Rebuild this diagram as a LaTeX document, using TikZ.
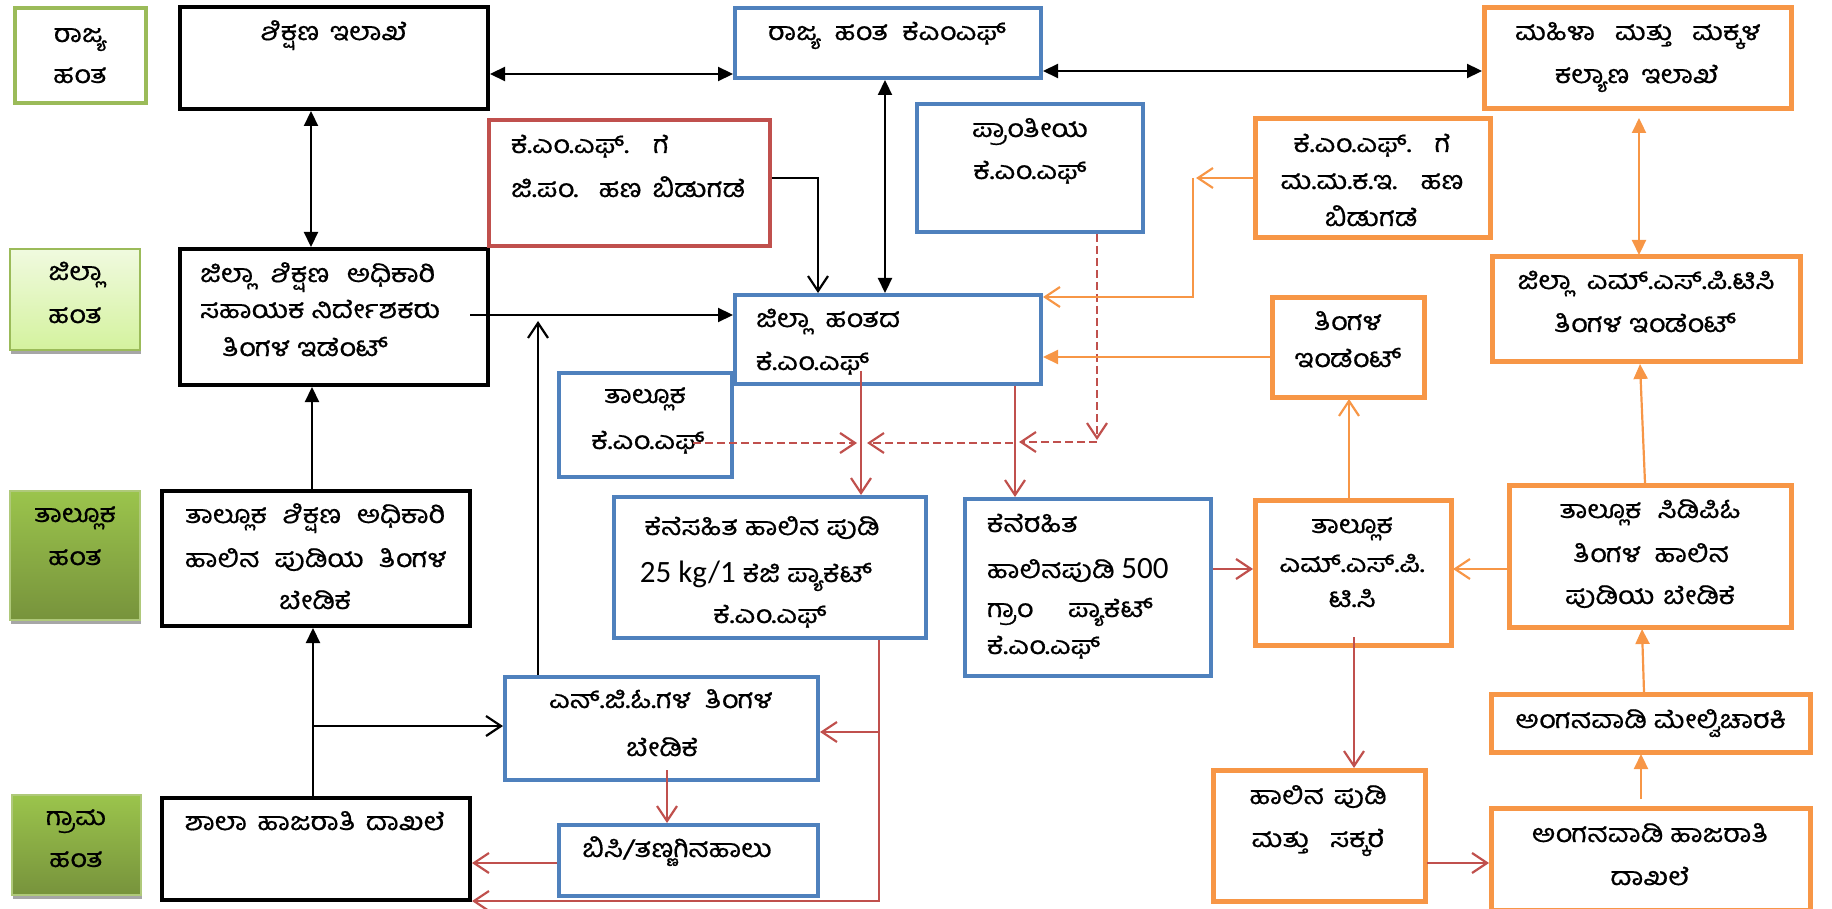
\documentclass[tikz,border=0pt]{standalone}
\usepackage{fontspec}
\usetikzlibrary{arrows.meta,calc,shadows}
\newfontfamily\kn{Hind Mysuru}[Script=Kannada, FakeStretch=1.15, FakeBold=0.6]
\newfontfamily\cb{Carlito}
\definecolor{kblue}{HTML}{4F81BD}
\definecolor{korange}{HTML}{F79646}
\definecolor{kred}{HTML}{C0504D}
\definecolor{kgreen}{HTML}{9BBB59}
\definecolor{kshadow}{HTML}{A6A6A6}
\newlength\tmpw
\newcommand\fw[2]{\settowidth\tmpw{#2}\ifdim\tmpw<#1pt\makebox[#1pt][s]{#2}\else #2\fi}
\newcommand\bx[6]{\node[#1, minimum width={#5-#3-4}, minimum height={#6-#4-4}] (#2) at ({(#3+#5)/2},{(#4+#6)/2}) {};}
\newcommand\tl[4][]{\node[tx,#1] (#2) at (#3) {#4};}
\tikzset{
  ft/.tip={Triangle[length=15pt,width=14pt]},
  ot/.tip={Straight Barb[length=15pt,width=20pt]},
  box/.style={rectangle, inner sep=0pt, outer sep=2pt, fill=white, line width=4pt},
  kbox/.style={box, draw=black},
  bbox/.style={box, draw=kblue, line width=4.3pt},
  obox/.style={box, draw=korange, line width=5pt},
  rbox/.style={box, draw=kred, line width=4.5pt},
  lv1/.style={box, draw=kgreen},
  lvl/.style={box, draw=kgreen, line width=2pt, top color={rgb,255:red,240;green,250;blue,223}, bottom color={rgb,255:red,212;green,242;blue,158},
     drop shadow={shadow xshift=1pt, shadow yshift=-4pt, fill=kshadow, opacity=1}},
  lvd/.style={box, draw=kgreen!80, line width=1.5pt, top color={rgb,255:red,155;green,196;blue,76}, bottom color={rgb,255:red,119;green,147;blue,60},
     drop shadow={shadow xshift=1pt, shadow yshift=-4pt, fill=kshadow, opacity=1}},
  tx/.style={inner sep=0pt, outer sep=0pt, font=\kn\fontsize{25pt}{28pt}\selectfont, anchor=base, text=black},
  kl/.style={line width=2.2pt, draw=black},
  rl/.style={line width=2.2pt, draw=kred},
  ol/.style={line width=2.2pt, draw=korange},
  dl/.style={rl, dash pattern=on 8pt off 4pt},
}
\begin{document}
\begin{tikzpicture}[x=1pt,y=-1pt]
\useasboundingbox (0,0) rectangle (1832,909);
% level boxes
\bx{lv1}{L1}{13}{6}{148}{105}
\bx{lvl}{L2}{8}{247}{142}{352}
\bx{lvd}{L3}{8}{489}{142}{622}
\bx{lvd}{L4}{10}{793}{143}{897}
% boxes
\bx{kbox}{A}{178}{5}{490}{111}
\bx{kbox}{B}{178}{247}{490}{387}
\bx{kbox}{C}{160}{489}{472}{628}
\bx{kbox}{D}{160}{796}{472}{902}
\bx{rbox}{E}{487}{118}{772}{248}
\bx{bbox}{F}{733}{6}{1043}{80}
\bx{obox}{G}{1482}{6}{1793}{111}
\bx{bbox}{H}{915}{102}{1145}{234}
\bx{obox}{I}{1253}{117}{1492}{240}
\bx{obox}{J}{1490}{255}{1802}{364}
\bx{bbox}{M}{557}{371}{734}{479}
\bx{bbox}{K}{733}{293}{1043}{386}
\bx{obox}{L}{1270}{296}{1426}{399}
\bx{bbox}{N}{612}{495}{928}{640}
\bx{bbox}{O}{963}{497}{1213}{678}
\bx{obox}{P}{1253}{498}{1453}{647}
\bx{obox}{Q}{1507}{483}{1793}{629}
\bx{bbox}{R}{503}{675}{820}{782}
\bx{obox}{S}{1489}{692}{1812}{754}
\bx{obox}{T}{1211}{768}{1427}{903}
\bx{bbox}{U}{557}{823}{820}{898}
\bx{obox}{V}{1489}{806}{1812}{912}
% texts
\tl{l1a}{80,42}{ರಾಜ್ಯ}
\tl{l1b}{80,83}{ಹಂತ}
\tl{l2a}{75,280}{ಜಿಲ್ಲಾ}
\tl{l2b}{75,323}{ಹಂತ}
\tl{l3a}{75,522}{ತಾಲ್ಲೂಕ}
\tl{l3b}{75,565}{ಹಂತ}
\tl{l4a}{76,825}{ಗ್ರಾಮ}
\tl{l4b}{76,867}{ಹಂತ}
\tl{a1}{334,40}{\fw{147}{ಶಿಕ್ಷಣ ಇಲಾಖೆ}}
\tl[anchor=base west]{b1}{200,282}{\fw{235}{ಜಿಲ್ಲಾ ಶಿಕ್ಷಣ ಅಧಿಕಾರಿ}}
\tl[anchor=base west]{b2}{200,318}{\fw{240}{ಸಹಾಯಕ ನಿರ್ದೇಶಕರು}}
\tl[anchor=base west]{b3}{222,356}{\fw{166}{ತಿಂಗಳ ಇಡೆಂಟ್}}
\tl[anchor=base west]{c1}{185,523}{\fw{260}{ತಾಲ್ಲೂಕ ಶಿಕ್ಷಣ ಅಧಿಕಾರಿ}}
\tl[anchor=base west]{c2}{185,567}{\fw{262}{ಹಾಲಿನ ಪುಡಿಯ ತಿಂಗಳ}}
\tl{c3}{315,609}{ಬೇಡಿಕೆ}
\tl[anchor=base west]{d1}{185,830}{\fw{260}{ಶಾಲಾ ಹಾಜರಾತಿ ದಾಖಲೆ}}
\tl[anchor=base west]{e1}{511,153}{\fw{158}{ಕೆ.ಎಂ.ಎಫ್. ಗೆ}}
\tl[anchor=base west]{e2}{511,197}{\fw{234}{ಜಿ.ಪಂ. ಹಣ ಬಿಡುಗಡೆ}}
\tl{f1}{887,40}{\fw{238}{ರಾಜ್ಯ ಹಂತ ಕೆಎಂಎಫ್}}
\tl{g1}{1638,40}{\fw{246}{ಮಹಿಳಾ ಮತ್ತು ಮಕ್ಕಳ}}
\tl{g2}{1637,83}{\fw{164}{ಕಲ್ಯಾಣ ಇಲಾಖೆ}}
\tl{h1}{1030,137}{ಪ್ರಾಂತೀಯ}
\tl{h2}{1030,179}{ಕೆ.ಎಂ.ಎಫ್}
\tl{i1}{1372,152}{\fw{157}{ಕೆ.ಎಂ.ಎಫ್. ಗೆ}}
\tl{i2}{1372,189}{\fw{183}{ಮ.ಮ.ಕ.ಇ. ಹಣ}}
\tl{i3}{1371,226}{ಬಿಡುಗಡೆ}
\tl{j1t}{1646,289}{\fw{257}{ಜಿಲ್ಲಾ ಎಮ್.ಎಸ್.ಪಿ.ಟಿಸಿ}}
\tl{j2t}{1645,332}{\fw{180}{ತಿಂಗಳ ಇಂಡೆಂಟ್}}
\tl[anchor=base west]{k1}{756,327}{\fw{144}{ಜಿಲ್ಲಾ ಹಂತದ}}
\tl[anchor=base west]{k2}{756,370}{ಕೆ.ಎಂ.ಎಫ್}
\tl{lt1}{1348,330}{ತಿಂಗಳ}
\tl{lt2}{1348,367}{ಇಂಡೆಂಟ್}
\tl{m1}{645,403}{ತಾಲ್ಲೂಕ}
\tl{m2}{648,449}{ಕೆ.ಎಂ.ಎಫ್}
\tl{n1}{762,535}{\fw{205}{ಕೆನೆಸಹಿತ ಹಾಲಿನ ಪುಡಿ}}
\tl{n2}{756,582}{\fw{212}{\mbox{\cb\fontsize{31pt}{34pt}\selectfont 25 kg/1} ಕೆಜಿ ಪ್ಯಾಕೆಟ್}}
\tl{n3}{770,623}{ಕೆ.ಎಂ.ಎಫ್}
\tl[anchor=base west]{o1}{987,532}{ಕೆನೆರಹಿತ}
\tl[anchor=base west]{o2}{987,578}{\fw{181}{ಹಾಲಿನಪುಡಿ \mbox{\cb\fontsize{31pt}{34pt}\selectfont 500}}}
\tl[anchor=base west]{o3}{987,617}{\fw{166}{ಗ್ರಾಂ ಪ್ಯಾಕೆಟ್}}
\tl[anchor=base west]{o4}{987,654}{ಕೆ.ಎಂ.ಎಫ್}
\tl{p1}{1352,533}{ತಾಲ್ಲೂಕ}
\tl{p2}{1352,572}{ಎಮ್.ಎಸ್.ಪಿ.}
\tl{p3}{1352,607}{ಟಿ.ಸಿ}
\tl{q1}{1650,518}{\fw{181}{ತಾಲ್ಲೂಕ ಸಿಡಿಪಿಓ}}
\tl{q2}{1651,562}{\fw{156}{ತಿಂಗಳ ಹಾಲಿನ}}
\tl{q3}{1650,604}{\fw{170}{ಪುಡಿಯ ಬೇಡಿಕೆ}}
\tl{r1}{661,708}{\fw{224}{ಎನ್.ಜಿ.ಓ.ಗಳ ತಿಂಗಳ}}
\tl{r2}{662,756}{ಬೇಡಿಕೆ}
\tl{s1}{1651,728}{\fw{268}{ಅಂಗನವಾಡಿ ಮೇಲ್ವಿಚಾರಕಿ}}
\tl{t1}{1318,804}{\fw{137}{ಹಾಲಿನ ಪುಡಿ}}
\tl{t2}{1318,847}{\fw{133}{ಮತ್ತು ಸಕ್ಕರೆ}}
\tl{u1}{677,857}{ಬಿಸಿ/ತಣ್ಣಗಿನಹಾಲು}
\tl{v1}{1650,842}{\fw{233}{ಅಂಗನವಾಡಿ ಹಾಜರಾತಿ}}
\tl{v2}{1650,885}{ದಾಖಲೆ}
% black connectors
\draw[kl, ft-ft] (A.east |- 0,74) -- (F.west |- 0,74);
\draw[kl, ft-ft] (F.east |- 0,71) -- (G.west |- 0,71);
\draw[kl, ft-ft] (A.south -| 311,0) -- (B.north -| 311,0);
\draw[kl, ft-ft] (F.south -| 885,0) -- (K.north -| 885,0);
\draw[kl, -ot] (E.east |- 0,178) -| (K.north -| 818,0);
\draw[kl, -ft] ($(B.east |- 0,315)+(-20,0)$) -- (K.west |- 0,315);
\draw[kl, -ft] (C.north -| 312,0) -- (B.south -| 312,0);
\draw[kl, -ft] (D.north -| 313,0) -- (C.south -| 313,0);
\coordinate (j1) at (313,726);
\draw[kl, -ot] (j1) -- (R.west |- j1);
\coordinate (j2) at (538,321);
\draw[kl, -ot] (R.north -| j2) -- (j2);
% red connectors
\draw[rl, -ot] ($(K.south -| 861,0)+(0,-15)$) -- (N.north -| 861,0);
\draw[rl, -ot] (K.south -| 1015,0) -- (O.north -| 1015,0);
\draw[rl, -ot] (O.east |- 0,569) -- (P.west |- 0,569);
\draw[rl, -ot] ($(P.south -| 1354,0)+(0,-10)$) -- (T.north -| 1354,0);
\draw[rl, -ot] (T.east |- 0,863) -- (V.west |- 0,863);
\coordinate (j3) at (879,732);
\draw[rl, -ot] (N.south -| 879,0) |- (D.east |- 0,901);
\draw[rl, -ot] (j3) -- (R.east |- j3);
\draw[rl, -ot] ($(R.south -| 667,0)+(0,-12)$) -- (U.north -| 667,0);
\draw[rl, -ot] (U.west |- 0,863) -- (D.east |- 0,863);
% dashed red
\coordinate (j5) at (1097,440);
\draw[dl, -ot] (H.south -| j5) -- (j5);
\coordinate (j6) at (1019,442);
\draw[dl, -ot] ($(j5)+(0,2)$) -- (j6);
\coordinate (j7) at (867,443);
\draw[dl, -ot] ($(j6)+(-6,1)$) -- (j7);
\coordinate (j8) at (857,443);
\draw[dl, -ot] ($(M.east |- j8)+(-41,0)$) -- (j8);
% orange connectors
\coordinate (j9) at (1196,178);
\draw[ol, -ot] (I.west |- j9) -- (j9);
\draw[ol, -ot] ($(j9)+(-3,0)$) |- (K.east |- 0,297);
\draw[ol, -ft] (L.west |- 0,357) -- (K.east |- 0,357);
\draw[ol, -ot] (P.north -| 1349,0) -- (L.south -| 1349,0);
\draw[ol, -ot] (Q.west |- 0,569) -- (P.east |- 0,569);
\draw[ol, ft-ft] ($(G.south -| 1639,0)+(0,7)$) -- (J.north -| 1639,0);
\draw[ol, -ft] (Q.north -| 1645,0) -- (J.south -| 1640,0);
\draw[ol, -ft] (S.north -| 1644,0) -- (Q.south -| 1642,0);
\draw[ol, -ft] ($(V.north -| 1641,0)+(0,-7)$) -- (S.south -| 1641,0);
\end{tikzpicture}
\end{document}
